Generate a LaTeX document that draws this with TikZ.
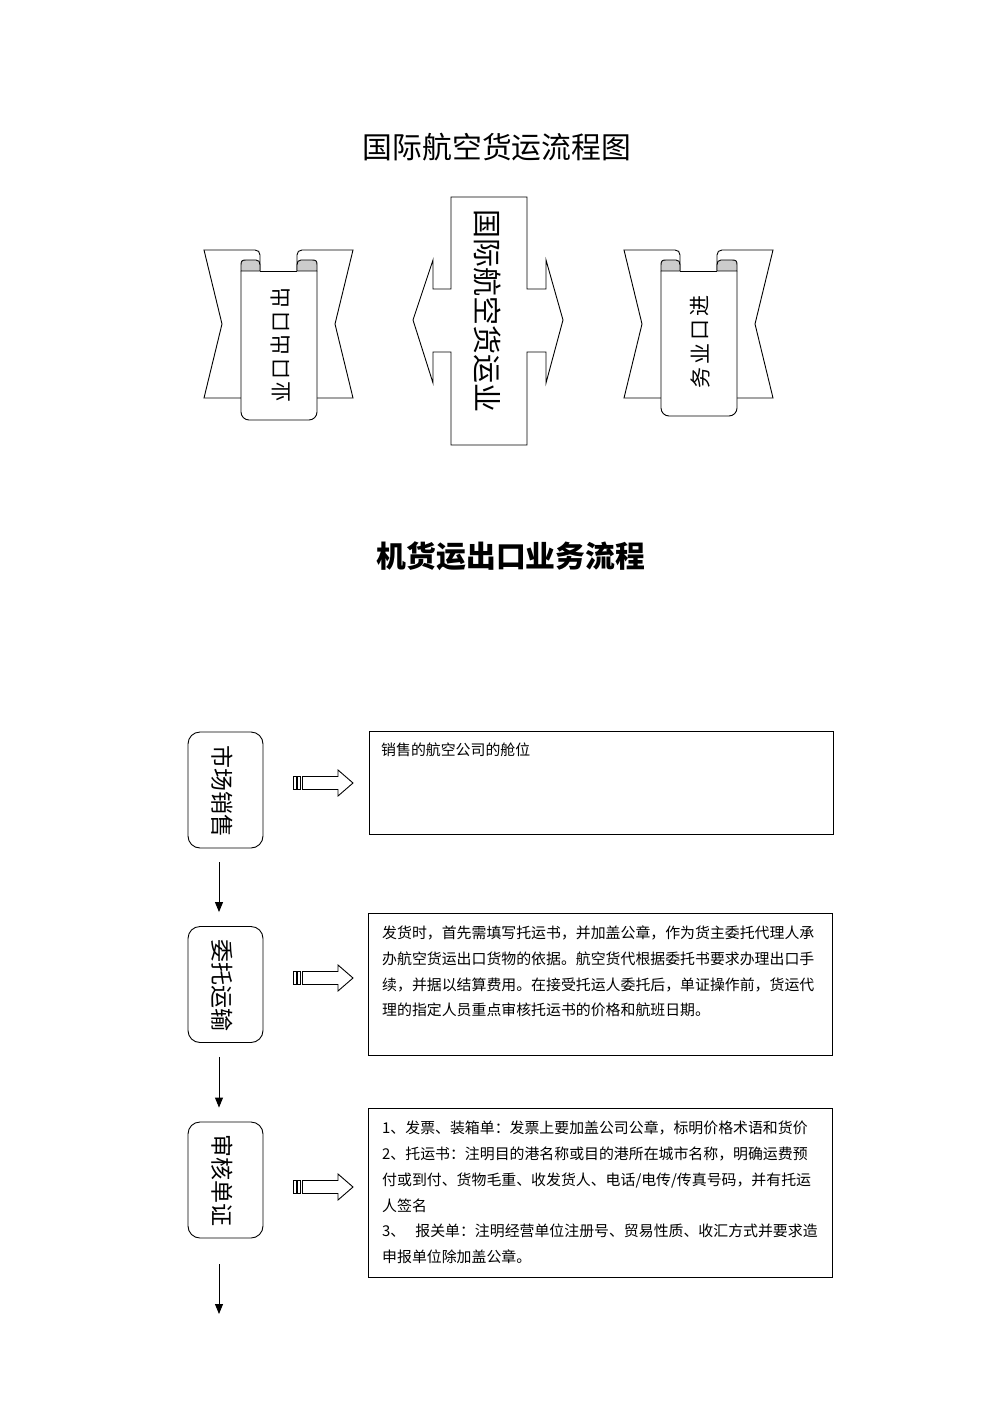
\documentclass[tikz,border=0pt]{standalone}
\usepackage{fontspec}
\setmainfont{Noto Sans CJK SC}
\usetikzlibrary{arrows.meta}
\definecolor{curlgray}{gray}{0.8}
\tikzset{
  ln/.style={line width=0.9pt},
  flowbox/.style={draw, line width=0.9pt, rounded corners=12pt, minimum width=75pt, minimum height=116pt, inner sep=0pt},
  textbox/.style={draw, line width=0.9pt, minimum width=464pt, inner sep=0pt},
  boxlbl/.style={rotate=-90, font=\fontsize{23}{23}\selectfont, inner sep=0pt},
  scrolllbl/.style={rotate=90, font=\fontsize{21}{21}\selectfont, inner sep=0pt},
  bodytxt/.style={anchor=base west, inner sep=0pt, font=\fontsize{14.9}{14.9}\selectfont},
  downarr/.style={line width=0.9pt, -{Triangle[width=8pt,length=10pt]}},
}
\newcommand\hollowarrow[1]{%
  \draw[ln] (293,#1-6.5) rectangle (296,#1+6.5);
  \draw[ln] (297.5,#1-6.5) rectangle (300.5,#1+6.5);
  \draw[ln] (302.5,#1-6.5) -- (338,#1-6.5) -- (338,#1-13) -- (353,#1) -- (338,#1+13) -- (338,#1+6.5) -- (302.5,#1+6.5) -- cycle;}
\begin{document}
\begin{tikzpicture}[x=1pt,y=-1pt]
\useasboundingbox (0,0) rectangle (993,1404);
\fill[white] (0,0) rectangle (993,1404);
\node[font=\fontsize{29.8}{30}\selectfont, inner sep=0pt] (title) at (497,147) {国际航空货运流程图};
% scrolls
\foreach \dx/\pb in {0/420,420/416}{
 \begin{scope}[xshift=\dx pt]
  \draw[ln] (241,398) -- (204,398) -- (222,324) -- (204,250) -- (255,250) .. controls (258,250) and (260,252) .. (260,255) -- (260,271);
  \draw[ln] (317,398) -- (353,398) -- (335,324) -- (353,250) -- (302,250) .. controls (299,250) and (297,252) .. (297,255) -- (297,271);
  \draw[ln, fill=white, rounded corners=8pt] (241,271) -- (241,\pb) -- (317,\pb) -- (317,271);
  \draw[ln, fill=curlgray] (260,271) -- (241,271) -- (241,265) .. controls (241,261) and (242,260) .. (246,260) -- (256,260) .. controls (259,260) and (260,262) .. (260,265) -- cycle;
  \draw[ln, fill=curlgray] (297,271) -- (317,271) -- (317,265) .. controls (317,261) and (316,260) .. (312,260) -- (301,260) .. controls (298,260) and (297,262) .. (297,265) -- cycle;
  \draw[ln] (260,271) -- (297,271);
 \end{scope}}
\foreach \c [count=\i from 0] in {出,口,出,口,业}{
  \node[scrolllbl] (ls\i) at (281,298+23.5*\i) {\c};}
\foreach \c [count=\i from 0] in {进,口,业,务}{
  \node[scrolllbl] (rs\i) at (700,306+24*\i) {\c};}
% centre cross
\draw[ln, fill=white] (451,197) -- (527,197) -- (527,289) -- (546,289) -- (546,260) -- (563,320) -- (546,383) -- (546,352) -- (527,352) -- (527,445) -- (451,445) -- (451,352) -- (433,352) -- (433,383) -- (413,320) -- (433,260) -- (433,289) -- (451,289) -- cycle;
\node[rotate=-90, font=\fontsize{29}{29}\selectfont, inner sep=0pt] (ctext) at (488,311) {国际航空货运业};
% second title
\node[font=\bfseries\fontsize{29.8}{30}\selectfont, inner sep=0pt] (title2) at (511,556) {机货运出口业务流程};
% flow boxes
\node[flowbox] (b1) at (225.5,790) {};
\node[boxlbl] (t1) at (222,791) {市场销售};
\node[flowbox] (b2) at (225.5,984.5) {};
\node[boxlbl] (t2) at (222,985) {委托运输};
\node[flowbox] (b3) at (225.5,1180) {};
\node[boxlbl] (t3) at (222,1180) {审核单证};
\coordinate (end) at (219,1314);
\draw[downarr, shorten <=14pt, shorten >=14pt] ([xshift=-6.5pt]b1.south) -- ([xshift=-6.5pt]b2.north);
\draw[downarr, shorten <=14pt, shorten >=14pt] ([xshift=-6.5pt]b2.south) -- ([xshift=-6.5pt]b3.north);
\draw[downarr, shorten <=26pt] ([xshift=-6.5pt]b3.south) -- (end);
% hollow arrows
\hollowarrow{783}
\hollowarrow{978}
\hollowarrow{1187}
% text boxes
\node[textbox, minimum height=103pt] (d1) at (601,782.5) {};
\node[textbox, minimum height=142pt] (d2) at (600.5,984) {};
\node[textbox, minimum height=169pt] (d3) at (600.5,1192.5) {};
\node[bodytxt] (a1) at (381,755.7) {销售的航空公司的舱位};
\foreach \t [count=\i from 0] in {发货时，首先需填写托运书，并加盖公章，作为货主委托代理人承,办航空货运出口货物的依据。航空货代根据委托书要求办理出口手,续，并据以结算费用。在接受托运人委托后，单证操作前，货运代,理的指定人员重点审核托运书的价格和航班日期。}{
  \node[bodytxt] (bl\i) at (382,938.7+25.7*\i) {\t};}
\foreach \t [count=\i from 0] in {1、发票、装箱单：发票上要加盖公司公章，标明价格术语和货价,2、托运书：注明目的港名称或目的港所在城市名称，明确运费预,付或到付、货物毛重、收发货人、电话/电传/传真号码，并有托运,人签名,3、\hspace{10pt}报关单：注明经营单位注册号、贸易性质、收汇方式并要求造,申报单位除加盖公章。}{
  \node[bodytxt] (cl\i) at (382,1133.7+25.8*\i) {\t};}
\end{tikzpicture}
\end{document}
